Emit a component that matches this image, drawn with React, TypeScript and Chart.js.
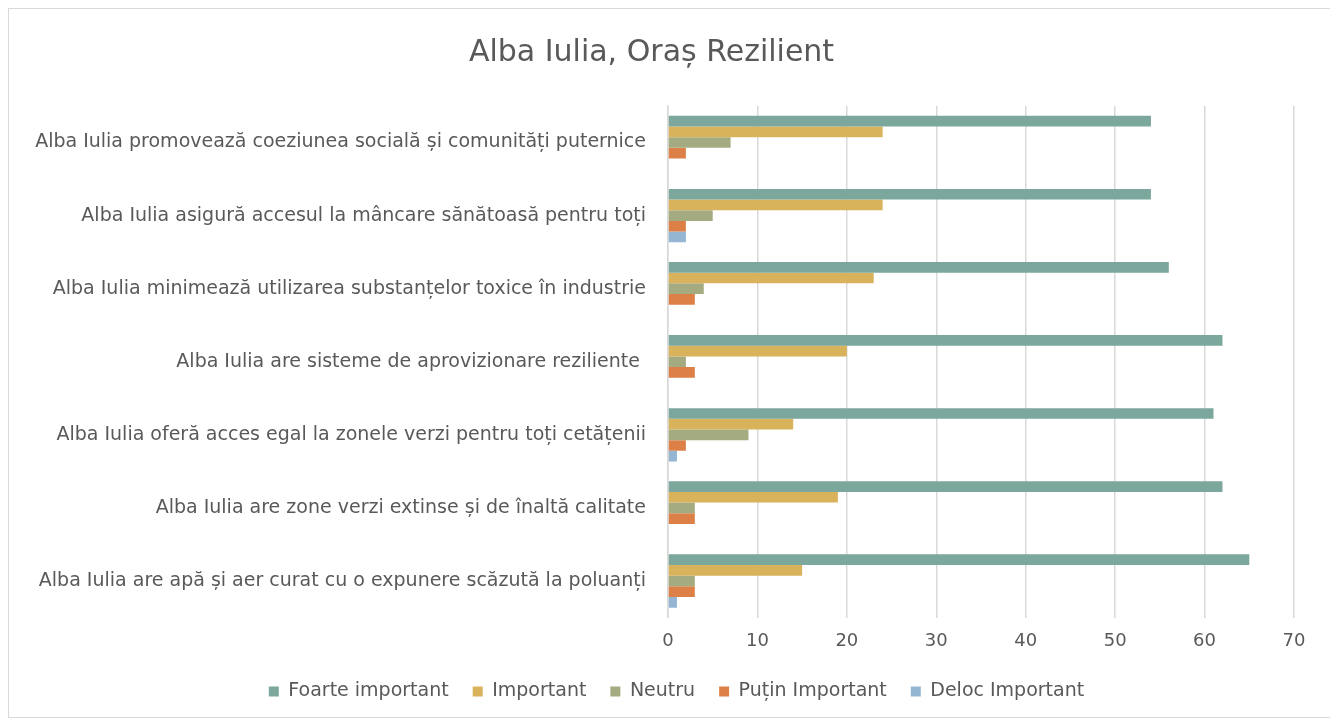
import React, { useEffect, useRef } from "react";
import { Chart, registerables } from "chart.js";

Chart.register(...registerables);

const categories = [
  "Alba Iulia promovează coeziunea socială și comunități puternice",
  "Alba Iulia asigură accesul la mâncare sănătoasă pentru toți",
  "Alba Iulia minimează utilizarea substanțelor toxice în industrie",
  "Alba Iulia are sisteme de aprovizionare reziliente ",
  "Alba Iulia oferă acces egal la zonele verzi pentru toți cetățenii",
  "Alba Iulia are zone verzi extinse și de înaltă calitate",
  "Alba Iulia are apă și aer curat cu o expunere scăzută la poluanți",
];

const seriesNames = ["Foarte important", "Important", "Neutru", "Puțin Important", "Deloc Important"];
const foarteImportant = [54, 54, 56, 62, 61, 62, 65];
const important = [24, 24, 23, 20, 14, 19, 15];
const neutru = [7, 5, 4, 2, 9, 3, 3];
const putinImportant = [2, 2, 3, 3, 2, 3, 3];
const delocImportant = [0, 2, 0, 0, 1, 0, 1];
const seriesColors = ["#7BA79D", "#D9B25C", "#A5AB81", "#DD8047", "#94B6D2"];
const xTicks = [0, 10, 20, 30, 40, 50, 60, 70];

const FONT = "'DejaVu Sans', sans-serif";

const legendShift = {
  id: "legendShift",
  afterLayout(chart: any) {
    if (chart.legend) {
      chart.legend.left += 25;
      chart.legend.right += 25;
    }
  },
};

export default function App() {
  const ref = useRef<HTMLCanvasElement | null>(null);
  useEffect(() => {
    if (!ref.current) return;
    const values = [foarteImportant, important, neutru, putinImportant, delocImportant];
    const chart = new Chart(ref.current, {
      type: "bar",
      data: {
        labels: categories,
        datasets: values.map((d, i) => ({
          label: seriesNames[i],
          data: d,
          backgroundColor: seriesColors[i],
          borderWidth: 0,
          barPercentage: 1,
          categoryPercentage: 0.73,
        })),
      },
      plugins: [legendShift],
      options: {
        indexAxis: "y",
        animation: false,
        responsive: false,
        maintainAspectRatio: false,
        layout: { padding: { left: 0, right: 39, top: 0, bottom: 6 } },
        plugins: {
          title: {
            display: true,
            text: "Alba Iulia, Oraș Rezilient",
            color: "#595959",
            font: { family: FONT, size: 30, weight: "normal" },
            padding: { top: 26, bottom: 35 },
          },
          legend: {
            position: "bottom",
            labels: {
              color: "#595959",
              font: { family: FONT, size: 19 },
              boxWidth: 10,
              boxHeight: 10,
              padding: 24,
            },
          },
          tooltip: { enabled: false },
        },
        scales: {
          x: {
            min: 0,
            max: 70,
            afterBuildTicks: (scale: any) => {
              scale.ticks = xTicks.map((v) => ({ value: v }));
            },
            afterFit: (scale: any) => {
              scale.height = 40.5;
            },
            grid: { color: "#D9D9D9", lineWidth: 1.5, drawTicks: false },
            border: { display: false },
            ticks: { color: "#595959", font: { family: FONT, size: 18 }, padding: 13 },
          },
          y: {
            grid: { display: false },
            border: { display: true, color: "#D9D9D9", width: 1.5 },
            ticks: { color: "#595959", font: { family: FONT, size: 19 }, padding: 14 },
            afterFit: (scale: any) => {
              scale.width = 659;
            },
          },
        },
      },
    });
    return () => chart.destroy();
  }, []);
  return (
    <div
      style={{
        width: 1326,
        height: 710,
        border: "1px solid #D9D9D9",
        boxSizing: "border-box",
        background: "#fff",
      }}
    >
      <canvas ref={ref} width={1324} height={708} style={{ display: "block" }} />
    </div>
  );
}
